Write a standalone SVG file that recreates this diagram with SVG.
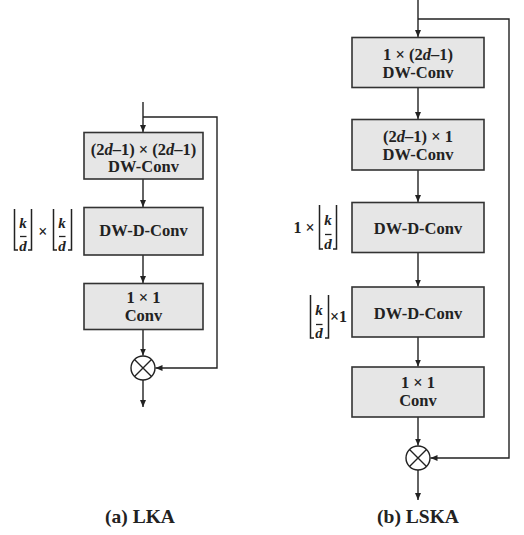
<svg xmlns="http://www.w3.org/2000/svg" width="524" height="535" viewBox="0 0 524 535">
<defs>
<marker id="ah" markerWidth="8" markerHeight="8" refX="7" refY="4" orient="auto" markerUnits="userSpaceOnUse">
<path d="M0,1 L7,4 L0,7 Z" fill="#222"/>
</marker>
<style>
.box{fill:#e6e6e6;stroke:#333;stroke-width:1.6}
.ln{fill:none;stroke:#222;stroke-width:1.4}
.t{font-family:"Liberation Serif","Times New Roman",serif;font-weight:bold;font-size:16.5px;fill:#222;text-anchor:middle}
.cap{font-family:"Liberation Serif","Times New Roman",serif;font-weight:bold;font-size:19.5px;fill:#222;text-anchor:middle}
.f{font-family:"Liberation Serif","Times New Roman",serif;font-weight:bold;font-style:italic;font-size:15px;fill:#222;text-anchor:middle}
.m{font-family:"Liberation Serif","Times New Roman",serif;font-weight:bold;font-size:16px;fill:#222;text-anchor:middle}
.br{fill:none;stroke:#222;stroke-width:1.5}
.fb{stroke:#222;stroke-width:1.3}
.i{font-style:italic}
</style>
</defs>

<g id="connectors">
<!-- LKA -->
<line class="ln" x1="143" y1="102" x2="143" y2="132" marker-end="url(#ah)"/>
<path class="ln" d="M143,117 H217 V368 H155.5" marker-end="url(#ah)"/>
<line class="ln" x1="143" y1="179" x2="143" y2="207" marker-end="url(#ah)"/>
<line class="ln" x1="143" y1="255" x2="143" y2="283" marker-end="url(#ah)"/>
<line class="ln" x1="143" y1="329.5" x2="143" y2="355.5" marker-end="url(#ah)"/>
<line class="ln" x1="143" y1="380" x2="143" y2="407" marker-end="url(#ah)"/>
<!-- LSKA -->
<line class="ln" x1="418" y1="0" x2="418" y2="37" marker-end="url(#ah)"/>
<path class="ln" d="M418,19 H509 V458 H430.5" marker-end="url(#ah)"/>
<line class="ln" x1="418" y1="88" x2="418" y2="119" marker-end="url(#ah)"/>
<line class="ln" x1="418" y1="170" x2="418" y2="202" marker-end="url(#ah)"/>
<line class="ln" x1="418" y1="252.5" x2="418" y2="286.5" marker-end="url(#ah)"/>
<line class="ln" x1="418" y1="337" x2="418" y2="366.5" marker-end="url(#ah)"/>
<line class="ln" x1="418" y1="417" x2="418" y2="445.5" marker-end="url(#ah)"/>
<line class="ln" x1="418" y1="470" x2="418" y2="500" marker-end="url(#ah)"/>
</g>

<!-- LKA nodes -->
<g id="lka-dwconv">
<rect class="box" x="84" y="132.5" width="119" height="46.5"/>
<text class="t" x="143.5" y="155">(2<tspan class="i">d</tspan>–1) × (2<tspan class="i">d</tspan>–1)</text>
<text class="t" x="143.5" y="172">DW-Conv</text>
</g>
<g id="lka-dwdconv">
<rect class="box" x="84" y="207.5" width="119" height="47.5"/>
<text class="t" x="143.5" y="236">DW-D-Conv</text>
</g>
<g id="lka-conv">
<rect class="box" x="84" y="283.5" width="119" height="46"/>
<text class="t" x="143.5" y="302.5">1 × 1</text>
<text class="t" x="143.5" y="321">Conv</text>
</g>
<g id="lka-mul">
<circle cx="143" cy="368" r="12" fill="#fff" stroke="#222" stroke-width="1.4"/>
<path class="ln" d="M134.5,359.5 L151.5,376.5 M151.5,359.5 L134.5,376.5"/>
</g>
<g id="lka-label">
<path class="br" d="M14.5,209 V250 H18"/>
<path class="br" d="M31.5,209 V250 H28"/>
<text class="f" x="23" y="228">k</text>
<line class="fb" x1="20" y1="236.5" x2="26.5" y2="236.5"/>
<text class="f" x="23" y="251">d</text>
<text class="m" x="42.7" y="237">×</text>
<path class="br" d="M53.5,209 V250 H57"/>
<path class="br" d="M71.5,209 V250 H68"/>
<text class="f" x="62" y="228">k</text>
<line class="fb" x1="59" y1="236.5" x2="65.5" y2="236.5"/>
<text class="f" x="62" y="251">d</text>
</g>

<!-- LSKA nodes -->
<g id="lska-dwconv1">
<rect class="box" x="352" y="37.5" width="132" height="50"/>
<text class="t" x="418" y="59.5">1 × (2<tspan class="i">d</tspan>–1)</text>
<text class="t" x="418" y="77.5">DW-Conv</text>
</g>
<g id="lska-dwconv2">
<rect class="box" x="352" y="119.5" width="132" height="50.5"/>
<text class="t" x="418" y="142">(2<tspan class="i">d</tspan>–1) × 1</text>
<text class="t" x="418" y="160">DW-Conv</text>
</g>
<g id="lska-dwdconv1">
<rect class="box" x="352" y="202.5" width="132" height="50"/>
<text class="t" x="418" y="234">DW-D-Conv</text>
</g>
<g id="lska-dwdconv2">
<rect class="box" x="352" y="287" width="132" height="50"/>
<text class="t" x="418" y="318.5">DW-D-Conv</text>
</g>
<g id="lska-conv">
<rect class="box" x="352" y="367" width="132" height="50"/>
<text class="t" x="418" y="387.5">1 × 1</text>
<text class="t" x="418" y="406">Conv</text>
</g>
<g id="lska-mul">
<circle cx="418" cy="458" r="12" fill="#fff" stroke="#222" stroke-width="1.4"/>
<path class="ln" d="M409.5,449.5 L426.5,466.5 M426.5,449.5 L409.5,466.5"/>
</g>
<g id="lska-label1">
<text class="m" x="304" y="233">1 ×</text>
<path class="br" d="M319.5,205 V249 H323"/>
<path class="br" d="M336.5,205 V249 H333"/>
<text class="f" x="328" y="225">k</text>
<line class="fb" x1="325" y1="234.5" x2="331.5" y2="234.5"/>
<text class="f" x="328" y="249">d</text>
</g>
<g id="lska-label2">
<path class="br" d="M310.5,295 V338 H314"/>
<path class="br" d="M328.5,295 V338 H325"/>
<text class="f" x="319" y="315">k</text>
<line class="fb" x1="316" y1="324.5" x2="322.5" y2="324.5"/>
<text class="f" x="319" y="338">d</text>
<text class="m" x="338.5" y="322">×1</text>
</g>

<g id="captions">
<text class="cap" x="140" y="523">(a) LKA</text>
<text class="cap" x="418" y="523">(b) LSKA</text>
</g>
</svg>
